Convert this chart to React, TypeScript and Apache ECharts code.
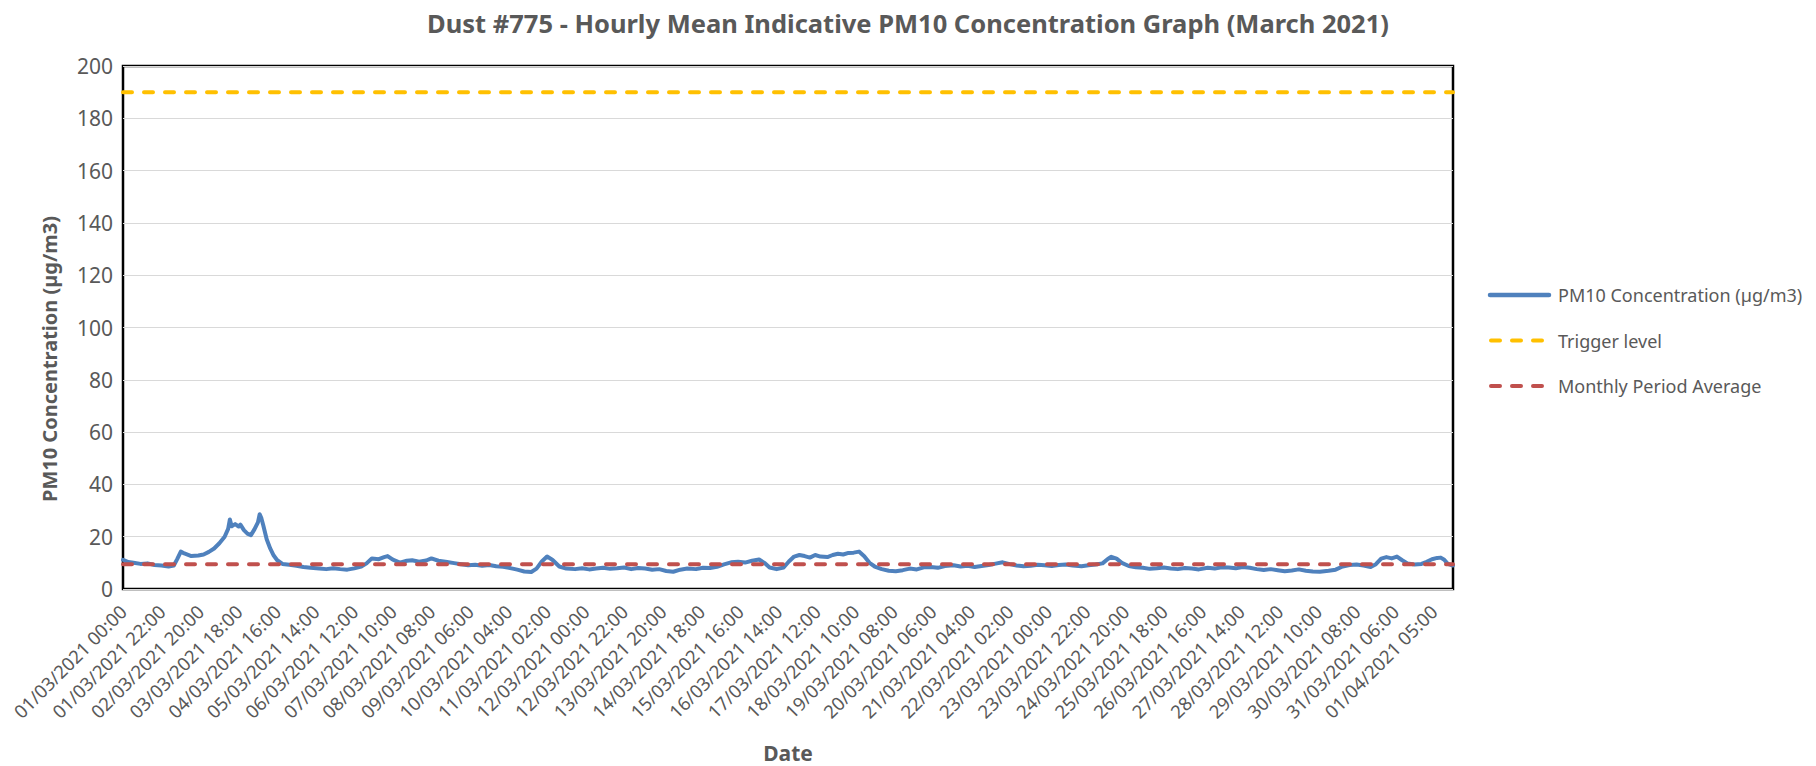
import React, { useEffect, useRef } from "react";
import * as echarts from "echarts";

const FONT = "'Noto Sans', 'Open Sans', sans-serif";
const TEXT_COLOR = "#595959";

const titleText =
  "Dust #775 - Hourly Mean Indicative PM10 Concentration Graph (March 2021)";
const yAxisTitle = "PM10 Concentration (µg/m3)";
const xAxisTitle = "Date";

const seriesNames = ["PM10 Concentration (µg/m3)", "Trigger level", "Monthly Period Average"];
const seriesColors = ["#4F81BD", "#FFC000", "#C0504D"];

const xTickLabels = [
  "01/03/2021 00:00", "01/03/2021 22:00", "02/03/2021 20:00", "03/03/2021 18:00",
  "04/03/2021 16:00", "05/03/2021 14:00", "06/03/2021 12:00", "07/03/2021 10:00",
  "08/03/2021 08:00", "09/03/2021 06:00", "10/03/2021 04:00", "11/03/2021 02:00",
  "12/03/2021 00:00", "12/03/2021 22:00", "13/03/2021 20:00", "14/03/2021 18:00",
  "15/03/2021 16:00", "16/03/2021 14:00", "17/03/2021 12:00", "18/03/2021 10:00",
  "19/03/2021 08:00", "20/03/2021 06:00", "21/03/2021 04:00", "22/03/2021 02:00",
  "23/03/2021 00:00", "23/03/2021 22:00", "24/03/2021 20:00", "25/03/2021 18:00",
  "26/03/2021 16:00", "27/03/2021 14:00", "28/03/2021 12:00", "29/03/2021 10:00",
  "30/03/2021 08:00", "31/03/2021 06:00", "01/04/2021 05:00",
];
const labelInterval = 22; // hourly readings between labels
const xMax = 759; // last hourly reading index
const yMax = 200;
const yInterval = 20;

const triggerLevel = 190;
const monthlyAverage = 9.5;

// hourly reading index (hours from 01/03/2021 00:00) and PM10 values (µg/m3)
const pm10Hours = [
  0, 3, 6, 10, 14, 18, 22, 26, 29, 31, 33, 35, 39, 43, 46, 49, 52, 55, 58, 60,
  61, 62, 64, 66, 67, 69, 71, 73, 75, 77, 78, 79, 80, 82, 84, 86, 88, 91, 95, 99,
  103, 107, 112, 116, 120, 124, 128, 132, 136, 139, 142, 146, 149, 151, 154, 158, 162, 165, 169, 173,
  176, 180, 185, 189, 193, 197, 201, 205, 209, 213, 217, 221, 225, 229, 233, 236, 239, 242, 245, 249,
  253, 258, 262, 266, 270, 274, 278, 282, 286, 290, 294, 298, 302, 306, 310, 314, 318, 322, 327, 331,
  335, 339, 343, 347, 351, 355, 359, 363, 366, 369, 373, 377, 380, 383, 386, 389, 392, 395, 398, 402,
  405, 408, 411, 414, 417, 420, 423, 426, 429, 433, 437, 441, 445, 449, 453, 457, 461, 465, 469, 474,
  478, 482, 486, 490, 494, 498, 502, 506, 510, 514, 518, 522, 526, 530, 534, 538, 542, 547, 551, 555,
  559, 562, 564, 567, 570, 574, 578, 582, 586, 590, 594, 598, 602, 606, 610, 614, 619, 623, 627, 631,
  635, 639, 643, 647, 651, 655, 659, 663, 667, 671, 675, 679, 683, 688, 692, 696, 700, 704, 708, 712,
  715, 718, 721, 724, 727, 730, 733, 737, 741, 744, 747, 750, 752, 754, 756, 759,
];
const pm10Values = [
  11.2, 10.3, 10, 9.6, 9.8, 9.2, 9, 8.6, 9, 11.5, 14.3, 13.6, 12.6, 12.8, 13.2, 14.2, 15.5, 17.5, 20, 23,
  26.6, 24, 24.8, 23.9, 24.6, 22.5, 21.2, 20.6, 22.8, 25.5, 28.6, 27, 24.5, 19, 15.5, 12.8, 11, 9.6, 9.3, 8.9,
  8.4, 8.1, 7.8, 7.6, 7.9, 7.6, 7.4, 7.9, 8.6, 9.8, 11.7, 11.4, 12.2, 12.6, 11.2, 10.1, 10.8, 11, 10.4, 10.9,
  11.7, 10.8, 10.3, 9.9, 9.5, 9.1, 9.3, 8.9, 9.2, 8.7, 8.5, 8, 7.4, 6.7, 6.5, 7.8, 10.5, 12.4, 11.2, 8.6,
  7.8, 7.6, 7.9, 7.5, 7.8, 8.1, 7.7, 7.9, 8.2, 7.6, 8, 7.8, 7.4, 7.6, 6.9, 6.6, 7.4, 7.8, 7.6, 8.1,
  8, 8.5, 9.4, 10.2, 10.4, 10.1, 10.8, 11.3, 10, 8.2, 7.6, 8.2, 10.5, 12.4, 13, 12.6, 12, 13, 12.4, 12.2,
  13, 13.5, 13.2, 13.8, 13.9, 14.3, 12.5, 10, 8.6, 7.6, 7, 6.8, 7.2, 7.8, 7.5, 8.3, 8.4, 8.1, 8.8, 9.1,
  8.6, 8.9, 8.4, 8.8, 9.2, 9.7, 10.2, 9.5, 9, 8.7, 8.9, 9.3, 9.1, 8.8, 9.2, 9.4, 9, 8.7, 9.1, 9.4,
  9.8, 11.5, 12.3, 11.6, 10, 8.8, 8.3, 8.1, 7.7, 7.9, 8.2, 7.8, 7.6, 8, 7.8, 7.5, 8.1, 7.8, 8.3, 8.2,
  7.9, 8.4, 8.1, 7.6, 7.3, 7.6, 7.2, 6.8, 7.1, 7.5, 7, 6.7, 6.6, 7, 7.4, 8.6, 9.2, 9.4, 9, 8.4,
  9.5, 11.6, 12.2, 11.7, 12.4, 11, 9.8, 9.4, 9.6, 10.4, 11.4, 11.9, 12, 11.2, 9.6, 9,
];

const DASH = [9, 12];

export default function App() {
  const ref = useRef<HTMLDivElement>(null);

  useEffect(() => {
    if (!ref.current) return;
    const chart = echarts.init(ref.current, null, { renderer: "svg" });
    const tickPositions = xTickLabels.map((_, i) => i * labelInterval);
    const labelAt = new Map<number, string>(
      tickPositions.map((p, i) => [p, xTickLabels[i]])
    );
    const pm10Data = pm10Hours.map((h, i) => [h, pm10Values[i]]);

    const legendTop = 295;
    const legendStep = 45.5;
    const legendGraphics: any[] = [];
    seriesNames.forEach((name, i) => {
      const y = legendTop + i * legendStep;
      legendGraphics.push({
        type: "line",
        shape: i === 0 ? { x1: 1490, y1: y, x2: 1549, y2: y } : { x1: 1491, y1: y, x2: 1548, y2: y },
        style: {
          stroke: seriesColors[i],
          lineWidth: i === 0 ? 4.5 : 4,
          lineCap: "round",
          lineDash: i === 0 ? null : DASH,
        },
      });
      legendGraphics.push({
        type: "text",
        x: 1558,
        y,
        style: {
          text: name,
          fontFamily: FONT,
          fontSize: 18,
          fill: TEXT_COLOR,
          align: "left",
          verticalAlign: "middle",
        },
      });
    });

    chart.setOption({
      animation: false,
      backgroundColor: "#ffffff",
      textStyle: { fontFamily: FONT },
      title: {
        text: titleText,
        left: "center",
        top: 5,
        textStyle: { fontFamily: FONT, fontSize: 25.5, fontWeight: "bold", color: TEXT_COLOR },
      },
      grid: {
        left: 123,
        right: 363,
        top: 66,
        bottom: 177,
        show: true,
        borderColor: "#000000",
        borderWidth: 2.5,
        backgroundColor: "transparent",
      },
      xAxis: {
        type: "value",
        min: 0,
        max: xMax,
        axisLine: { show: false },
        axisTick: { show: false },
        splitLine: { show: false },
        axisLabel: {
          customValues: tickPositions,
          formatter: (v: number) => labelAt.get(v) ?? "",
          rotate: 45,
          margin: 19,
          fontFamily: FONT,
          fontSize: 18.5,
          color: TEXT_COLOR,
        },
      },
      yAxis: {
        type: "value",
        min: 0,
        max: yMax,
        interval: yInterval,
        axisLine: { show: false },
        axisTick: { show: false },
        splitLine: { lineStyle: { color: "#D9D9D9", width: 1 } },
        axisLabel: { fontFamily: FONT, fontSize: 21, color: TEXT_COLOR, margin: 10 },
      },
      graphic: [
        {
          type: "text",
          x: 49,
          y: 359,
          rotation: Math.PI / 2,
          style: {
            text: yAxisTitle,
            fontFamily: FONT,
            fontSize: 20,
            fontWeight: "bold",
            fill: TEXT_COLOR,
            align: "center",
            verticalAlign: "middle",
          },
        },
        {
          type: "text",
          x: 788,
          y: 753,
          style: {
            text: xAxisTitle,
            fontFamily: FONT,
            fontSize: 21,
            fontWeight: "bold",
            fill: TEXT_COLOR,
            align: "center",
            verticalAlign: "middle",
          },
        },
        ...legendGraphics,
      ],
      series: [
        {
          name: seriesNames[0],
          type: "line",
          data: pm10Data,
          showSymbol: false,
          symbol: "none",
          lineStyle: { color: seriesColors[0], width: 4, cap: "round", join: "round" },
          itemStyle: { color: seriesColors[0] },
          z: 2,
        },
        {
          name: seriesNames[1],
          type: "line",
          data: [[0, triggerLevel], [xMax, triggerLevel]],
          showSymbol: false,
          symbol: "none",
          lineStyle: { color: seriesColors[1], width: 4, type: DASH, cap: "round" },
          itemStyle: { color: seriesColors[1] },
          z: 3,
        },
        {
          name: seriesNames[2],
          type: "line",
          data: [[0, monthlyAverage], [xMax, monthlyAverage]],
          showSymbol: false,
          symbol: "none",
          lineStyle: { color: seriesColors[2], width: 4, type: DASH, cap: "round" },
          itemStyle: { color: seriesColors[2] },
          z: 4,
        },
      ],
    });

    return () => chart.dispose();
  }, []);

  return (
    <div
      ref={ref}
      style={{ position: "fixed", left: 0, top: 0, width: 1816, height: 766 }}
    />
  );
}
